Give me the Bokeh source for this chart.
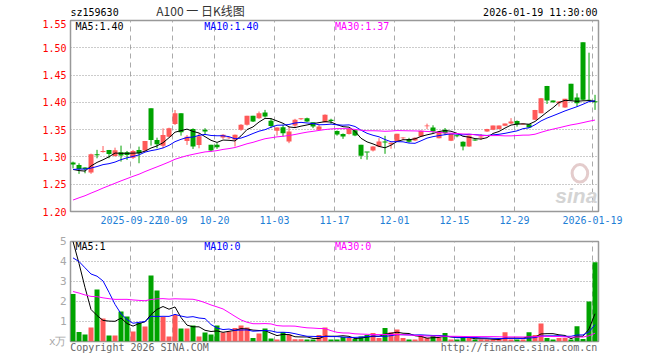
import numpy as np
import pandas as pd
from bokeh.plotting import figure
from bokeh.layouts import column
from bokeh.models import FixedTicker, Label, ColumnDataSource, PrintfTickFormatter, Range1d
from bokeh.embed import file_html
from bokeh.resources import INLINE

# ---------------- data ----------------
sep = ["08", "09", "10", "11", "12", "15", "16", "17", "18", "19", "22", "23", "24", "25", "26", "29", "30"]
oct_ = ["09", "10", "13", "14", "15", "16", "17", "20", "21", "22", "23", "24", "27", "28", "29", "30", "31"]
nov = ["03", "04", "05", "06", "07", "10", "11", "12", "13", "14", "17", "18", "19", "20", "21", "24", "25", "26", "27", "28"]
dec = ["01", "02", "03", "04", "05", "08", "09", "10", "11", "12", "15", "16", "17", "18", "19", "22", "23", "24", "25", "26", "29", "30", "31"]
jan = ["05", "06", "07", "08", "09", "12", "13", "14", "15", "16", "19"]
dates = (["2025-09-" + d for d in sep] + ["2025-10-" + d for d in oct_] + ["2025-11-" + d for d in nov]
         + ["2025-12-" + d for d in dec] + ["2026-01-" + d for d in jan])

tick_dates = ["2025-09-22", "2025-10-09", "2025-10-20", "2025-11-03", "2025-11-17",
              "2025-12-01", "2025-12-15", "2025-12-29", "2026-01-19"]
tick_labels = ["2025-09-22", "10-09", "10-20", "11-03", "11-17", "12-01", "12-15", "12-29", "2026-01-19"]

open_ = [1.2896, 1.2853, 1.2804, 1.2713, 1.3042, 1.3092, 1.3128, 1.3018, 1.3085, 1.3085,
         1.2987, 1.3128, 1.3116, 1.3890, 1.3310, 1.3207, 1.3372, 1.3603, 1.3799, 1.3292,
         1.3512, 1.3219, 1.3496, 1.3222, 1.3222, 1.3356, 1.3340, 1.3313, 1.3496, 1.3588,
         1.3753, 1.3710, 1.3814, 1.3665, 1.3478, 1.3545, 1.3282, 1.3575, 1.3690, 1.3710,
         1.3637, 1.3496, 1.3637, 1.3680, 1.3475, 1.3420, 1.3420, 1.3490, 1.3222, 1.3087,
         1.3117, 1.3191, 1.3285, 1.3234, 1.3282, 1.3340, 1.3330, 1.3300, 1.3374, 1.3560,
         1.3538, 1.3344, 1.3497, 1.3295, 1.3390, 1.3280, 1.3189, 1.3320, 1.3355, 1.3465,
         1.3496, 1.3510, 1.3570, 1.3611, 1.3660, 1.3595, 1.3599, 1.3680, 1.3802, 1.4302,
         1.4033, 1.3985, 1.3905, 1.4339, 1.4088, 1.5100, 1.4050, 1.4020]
high = [1.2914, 1.2884, 1.2810, 1.3060, 1.3130, 1.3200, 1.3128, 1.3170, 1.3207, 1.3110,
        1.3128, 1.3189, 1.3293, 1.3890, 1.3353, 1.3524, 1.3536, 1.3860, 1.3799, 1.3402,
        1.3524, 1.3433, 1.3527, 1.3222, 1.3252, 1.3418, 1.3370, 1.3410, 1.3600, 1.3753,
        1.3753, 1.3832, 1.3862, 1.3710, 1.3540, 1.3588, 1.3557, 1.3698, 1.3710, 1.3720,
        1.3637, 1.3588, 1.3780, 1.3700, 1.3485, 1.3430, 1.3527, 1.3500, 1.3222, 1.3087,
        1.3195, 1.3344, 1.3387, 1.3264, 1.3423, 1.3360, 1.3350, 1.3360, 1.3484, 1.3610,
        1.3580, 1.3465, 1.3530, 1.3418, 1.3410, 1.3285, 1.3392, 1.3325, 1.3420, 1.3515,
        1.3574, 1.3574, 1.3611, 1.3711, 1.3668, 1.3605, 1.3600, 1.3862, 1.4080, 1.4302,
        1.4035, 1.4020, 1.4064, 1.4339, 1.4165, 1.5100, 1.4910, 1.4138]
low = [1.2790, 1.2689, 1.2700, 1.2690, 1.2975, 1.3080, 1.2975, 1.3006, 1.2914, 1.2945,
       1.2963, 1.2884, 1.3097, 1.3207, 1.3158, 1.3158, 1.3360, 1.3585, 1.3390, 1.3220,
       1.3146, 1.3158, 1.3418, 1.3099, 1.3148, 1.3330, 1.3330, 1.3191, 1.3480, 1.3575,
       1.3640, 1.3698, 1.3722, 1.3527, 1.3392, 1.3374, 1.3252, 1.3545, 1.3680, 1.3640,
       1.3527, 1.3485, 1.3630, 1.3610, 1.3390, 1.3331, 1.3410, 1.3380, 1.2960, 1.2950,
       1.3100, 1.3180, 1.3057, 1.3150, 1.3275, 1.3310, 1.3260, 1.3290, 1.3370, 1.3510,
       1.3440, 1.3340, 1.3400, 1.3290, 1.3360, 1.3120, 1.3185, 1.3295, 1.3310, 1.3460,
       1.3490, 1.3505, 1.3565, 1.3600, 1.3555, 1.3590, 1.3536, 1.3675, 1.3800, 1.3970,
       1.3995, 1.3923, 1.3900, 1.4030, 1.3923, 1.4040, 1.4030, 1.3862]
close = [1.2860, 1.2780, 1.2780, 1.3048, 1.3030, 1.3100, 1.3055, 1.3122, 1.3024, 1.3036,
         1.3110, 1.3067, 1.3293, 1.3310, 1.3231, 1.3402, 1.3524, 1.3799, 1.3451, 1.3372,
         1.3189, 1.3380, 1.3465, 1.3117, 1.3179, 1.3405, 1.3356, 1.3405, 1.3588, 1.3753,
         1.3648, 1.3802, 1.3740, 1.3567, 1.3540, 1.3435, 1.3465, 1.3680, 1.3700, 1.3648,
         1.3557, 1.3557, 1.3771, 1.3660, 1.3410, 1.3374, 1.3512, 1.3392, 1.3020, 1.3080,
         1.3189, 1.3282, 1.3265, 1.3260, 1.3423, 1.3345, 1.3280, 1.3350, 1.3480, 1.3570,
         1.3465, 1.3465, 1.3435, 1.3418, 1.3380, 1.3190, 1.3392, 1.3300, 1.3375, 1.3510,
         1.3574, 1.3574, 1.3611, 1.3648, 1.3599, 1.3600, 1.3538, 1.3862, 1.4077, 1.4033,
         1.4000, 1.4015, 1.4064, 1.4033, 1.3985, 1.4046, 1.4030, 1.4000]
volume = [2.38, 0.47, 0.35, 0.70, 2.60, 1.15, 0.30, 0.30, 1.50, 1.25,
          0.50, 0.93, 0.75, 3.30, 2.55, 1.22, 0.25, 1.32, 0.65, 0.65,
          0.80, 0.25, 0.45, 0.35, 0.80, 0.45, 0.50, 0.68, 0.80, 0.70,
          0.17, 0.40, 0.65, 0.15, 0.10, 0.47, 0.35, 0.11, 0.11, 0.10,
          0.10, 0.32, 0.70, 0.10, 0.10, 0.22, 0.17, 0.13, 0.25, 0.33,
          0.42, 0.17, 0.67, 0.46, 0.60, 0.17, 0.10, 0.10, 0.30, 0.17,
          0.27, 0.17, 0.42, 0.10, 0.10, 0.22, 0.17, 0.10, 0.10, 0.10,
          0.10, 0.10, 0.46, 0.10, 0.10, 0.10, 0.46, 0.33, 0.90, 0.17,
          0.10, 0.17, 0.17, 0.10, 0.76, 0.12, 2.00, 3.96]

# estimated closes / volumes of the 29 sessions before the window (only feed the moving averages)
prior_close = [1.155, 1.165, 1.160, 1.170, 1.165, 1.175, 1.180, 1.170, 1.180, 1.185,
               1.190, 1.185, 1.200, 1.195, 1.210, 1.215, 1.230, 1.240, 1.245, 1.245,
               1.270, 1.280, 1.285, 1.275, 1.275, 1.288, 1.283, 1.2575, 1.2705]
prior_volume = [2.80, 3.20, 2.90, 3.00, 2.87, 1.60, 1.30, 1.50, 1.20, 1.40,
                1.60, 1.30, 1.50, 1.50, 0.90, 1.00, 0.80, 0.95, 0.88, 1.00,
                2.27, 3.50, 3.80, 3.70, 3.53, 5.97, 6.35, 6.20, 4.10]

ma_periods = [5, 10, 30]
ma_colors = ["#000000", "#0000ff", "#ff00ff"]
price_ma_text = ["MA5:1.40", "MA10:1.40", "MA30:1.37"]
vol_ma_text = ["MA5:1", "MA10:0", "MA30:0"]
vol_unit = "x万"
footer_texts = ["Copyright 2026 SINA.COM", "http://finance.sina.com.cn"]

# ---------------- derived ----------------
n = len(dates)
x = np.arange(n) + 0.42
o = np.array(open_); h = np.array(high); l = np.array(low); c = np.array(close)
up = c >= o
RED, GREEN = "#ff5959", "#00a300"
colors = [RED if u else GREEN for u in up]
top = np.maximum(o, c)
bot = np.minimum(o, c)
top = np.maximum(top, bot + 0.0018)
src = ColumnDataSource(dict(x=x, o=o, h=h, l=l, c=c, top=top, bot=bot, color=colors, vol=volume))

all_close = pd.Series(prior_close + close)
all_vol = pd.Series(prior_volume + volume)
k = len(prior_close)

tick_idx = [dates.index(d) for d in tick_dates]
MONO = "DejaVu Sans Mono"
W = 660


def style(fig):
    fig.background_fill_color = "white"
    fig.border_fill_color = "white"
    fig.outline_line_color = "#999999"
    fig.outline_line_width = 1.5
    fig.xgrid.ticker = FixedTicker(ticks=tick_idx)
    fig.xgrid.grid_line_color = "#aaaaaa"
    fig.xgrid.grid_line_dash = "5 4"
    fig.ygrid.grid_line_color = "#999999"
    fig.ygrid.grid_line_dash = "1 2"
    for ax in fig.axis:
        ax.axis_line_color = None
        ax.major_tick_line_color = None
        ax.minor_tick_line_color = None
        ax.major_tick_in = 0
        ax.major_tick_out = 0
        ax.major_label_standoff = 4
        ax.major_label_text_font = MONO
        ax.major_label_text_font_size = "10px"


# ---------------- header (its frame lines up with the panels below: 70..598 px) ----------------
head = figure(width=W, height=19, x_range=Range1d(70, 598), y_range=Range1d(19, 0),
              output_backend="svg", toolbar_location=None, x_axis_location=None,
              y_axis_location=None, min_border_left=70, min_border_right=62,
              min_border_top=0, min_border_bottom=0)
head.outline_line_color = None
head.grid.visible = False
head.add_layout(Label(x=70, y=11.5, text="sz159630", text_color="#000000", text_font=MONO,
                      text_font_size="10px", text_baseline="middle"))
head.add_layout(Label(x=200, y=10, text="A100 一 日K线图", text_color="#333333",
                      text_font="Noto Sans CJK SC", text_font_size="12px",
                      text_align="center", text_baseline="middle"))
head.add_layout(Label(x=597, y=11.5, text="2026-01-19 11:30:00", text_color="#000000",
                      text_font=MONO, text_font_size="10px", text_align="right",
                      text_baseline="middle"))

# ---------------- price panel ----------------
p = figure(width=W, height=213, x_range=(0, 88), y_range=(1.20, 1.55),
           output_backend="svg", toolbar_location=None,
           min_border_left=70, min_border_right=62, min_border_top=1, min_border_bottom=21)
style(p)
p.yaxis.ticker = FixedTicker(ticks=[1.20, 1.25, 1.30, 1.35, 1.40, 1.45, 1.50, 1.55])
p.yaxis.formatter = PrintfTickFormatter(format="%.2f")
p.yaxis.major_label_text_color = "#ff0000"
p.ygrid.ticker = FixedTicker(ticks=[1.25, 1.30, 1.35, 1.40, 1.45, 1.50])
p.xaxis.ticker = FixedTicker(ticks=tick_idx)
p.xaxis.major_label_overrides = {i: t for i, t in zip(tick_idx, tick_labels)}
p.xaxis.major_label_text_color = "#1f80d6"

# watermark
p.text(x=[84.3], y=[1.2295], text=["sina"], text_color="#d4d4d4", text_font_size="21px",
       text_font_style="bold italic", text_align="center", text_baseline="middle")
p.ellipse(x=[84.9], y=[1.270], width=2.6, height=0.032, fill_color=None, line_color="#e4cccc", line_width=3)

p.segment(x0="x", y0="l", x1="x", y1="h", color="color", line_width=1, source=src)
p.vbar(x="x", top="top", bottom="bot", width=5 / 6, fill_color="color", line_color=None, source=src)

for per, col in zip(ma_periods, ma_colors):
    ma = all_close.rolling(per).mean().to_numpy()[k:]
    p.line(x, ma, line_color=col, line_width=1)

for xt, txt, col in zip([0.83, 22.3, 44.1], price_ma_text, ma_colors):
    p.add_layout(Label(x=xt, y=1.5385, text=txt, text_color=col, text_font=MONO,
                       text_font_size="10px", text_baseline="middle"))

# ---------------- volume panel (its bottom axis carries the footer texts) ----------------
v = figure(width=W, height=128, x_range=p.x_range, y_range=(0, 5),
           output_backend="svg", toolbar_location=None,
           min_border_left=70, min_border_right=62, min_border_top=9, min_border_bottom=19)
style(v)
v.yaxis.ticker = FixedTicker(ticks=[0, 1, 2, 3, 4, 5])
v.yaxis.major_label_overrides = {0: vol_unit}
v.yaxis.major_label_text_color = "#a8a8a8"
v.yaxis.major_label_text_font_size = "11px"
v.ygrid.ticker = FixedTicker(ticks=[1, 2, 3, 4])
v.xaxis.ticker = FixedTicker(ticks=[11.5, 74.75])
v.xaxis.major_label_overrides = {11.5: footer_texts[0], 74.75: footer_texts[1]}
v.xaxis.major_label_text_color = "#666666"
v.xaxis.major_label_standoff = 0

v.vbar(x="x", top="vol", bottom=0, width=5 / 6, fill_color="color", line_color=None, source=src)
for per, col in zip(ma_periods, ma_colors):
    ma = all_vol.rolling(per).mean().to_numpy()[k:]
    v.line(x, ma, line_color=col, line_width=1)

for xt, txt, col in zip([0.83, 22.3, 44.1], vol_ma_text, ma_colors):
    v.add_layout(Label(x=xt, y=4.75, text=txt, text_color=col, text_font=MONO,
                       text_font_size="10px", text_baseline="middle"))

layout = column(head, p, v, spacing=0)
open("out.html", "w").write(file_html(layout, INLINE))
